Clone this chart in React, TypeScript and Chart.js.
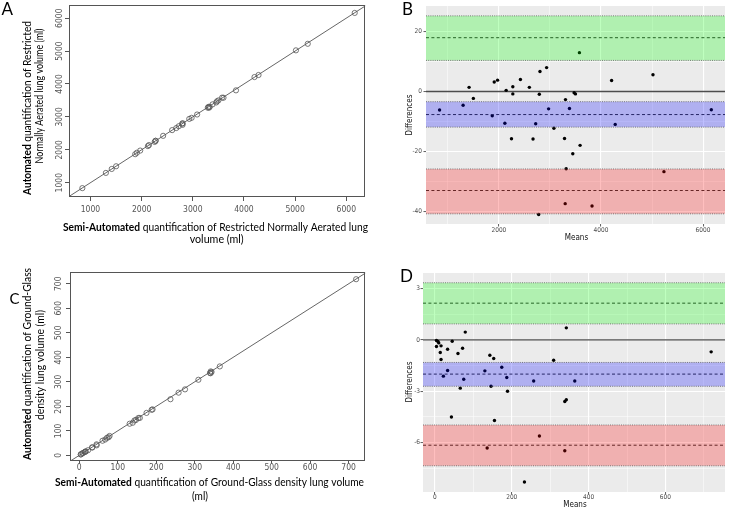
import React, { useEffect, useRef } from 'react';
import { Chart, registerables } from 'chart.js';
Chart.register(...registerables);

const TITLE_FONT = 'Lato, "Open Sans", sans-serif';
const TICK_FONT = '"Liberation Sans Narrow", "DejaVu Sans Condensed", "Liberation Sans", Arial, sans-serif';

// ---------- Panel A: Restricted Normally Aerated lung volume (ml) ----------
const semiA = [841, 1415, 1301, 1501, 1874, 1907, 1972, 2122, 2143, 2272, 2273, 2255, 2420, 2596, 2677, 2726, 2792, 2802, 2800, 2931, 2977, 3084, 3294, 3306, 3331, 3318, 3386, 3458, 3474, 3500, 3572, 3600, 3844, 4206, 4285, 5016, 5247, 6165];
const autoA = [835, 1417, 1297, 1499, 1866, 1911, 1976, 2112, 2143, 2274, 2273, 2239, 2424, 2598, 2661, 2716, 2792, 2808, 2758, 2939, 2971, 3072, 3278, 3304, 3305, 3280, 3380, 3438, 3474, 3500, 3584, 3582, 3806, 4210, 4273, 5022, 5221, 6159];
const ticksA = [1000, 2000, 3000, 4000, 5000, 6000];
const identityA = [0, 7000];

// ---------- Panel B: Bland-Altman, Restricted Normally Aerated ----------
const meansB = [838, 1416, 1299, 1500, 1870, 1909, 1974, 2117, 2143, 2273, 2273, 2247, 2422, 2597, 2669, 2721, 2792, 2805, 2779, 2935, 2974, 3078, 3286, 3305, 3318, 3299, 3383, 3448, 3474, 3500, 3578, 3591, 3825, 4208, 4279, 5019, 5234, 6162];
const diffsB = [-6.2, 1.4, -4.6, -2.3, -8.1, 3.2, 3.8, -10.6, 0.4, 1.6, -0.8, -15.8, 4.0, 1.4, -15.9, -10.8, -0.9, 6.7, -41.1, 8.0, -5.8, -12.3, -15.7, -2.7, -25.8, -37.5, -5.7, -20.8, -0.4, -0.8, 13.0, -18.0, -38.3, 3.7, -11.0, 5.6, -26.8, -6.1];
const xTicksB = [1000, 2000, 3000, 4000, 5000, 6000];
const xLabelsB = [2000, 4000, 6000];
const yTicksB = [-40, -30, -20, -10, 0, 10, 20];
const yLabelsB = [-40, -20, 0, 20];
const bandLowB = [10.4, -11.9, -40.9];
const bandMeanB = [18.0, -7.7, -33.1];
const bandHighB = [25.3, -3.4, -25.9];

// ---------- Panel C: Ground-Glass density lung volume (ml) ----------
const semiC = [4, 8, 10, 4.2, 16.2, 14.4, 16.6, 23, 33.3, 34, 45.2, 45, 60.4, 67.4, 72.2, 76.2, 78.8, 131, 139, 143.5, 147.4, 153.5, 157.4, 174.8, 188.1, 190.5, 237, 258.2, 274.8, 309.6, 341.2, 339.8, 343.8, 341.6, 365.2, 719.4];
const autoC = [4, 8, 10, 3.8, 15.8, 13.6, 15.4, 21, 32.7, 32, 40.8, 45, 59.6, 64.6, 71.8, 73.8, 79.2, 129, 133, 142.5, 144.6, 152.5, 152.6, 173.2, 185.9, 187.5, 229, 255.8, 269.2, 308.4, 334.8, 336.2, 340.2, 342.4, 362.8, 718.6];
const ticksC = [0, 100, 200, 300, 400, 500, 600, 700];
const identityC = [-100, 800];

// ---------- Panel D: Bland-Altman, Ground-Glass ----------
const meansD = [4, 8, 10, 4, 16, 14, 16, 22, 33, 33, 43, 45, 60, 66, 72, 75, 79, 130, 136, 143, 146, 153, 155, 174, 187, 189, 233, 257, 272, 309, 338, 338, 342, 342, 364, 719];
const diffsD = [-0.04, -0.1, -0.18, -0.39, -0.35, -0.74, -1.15, -2.12, -0.55, -1.79, -4.5, -0.08, -0.8, -2.82, -0.49, -2.3, 0.45, -1.81, -6.31, -0.9, -2.71, -1.09, -4.71, -1.6, -2.2, -3.0, -8.3, -2.4, -5.61, -1.19, -6.47, -3.6, -3.5, 0.7, -2.4, -0.7];
const xTicksD = [0, 100, 200, 300, 400, 500, 600, 700];
const xLabelsD = [0, 200, 400, 600];
const yTicksD = [-7.5, -6, -4.5, -3, -1.5, 0, 1.5, 3];
const yLabelsD = [-6, -3, 0, 3];
const bandLowD = [0.93, -2.71, -7.35];
const bandMeanD = [2.14, -2.0, -6.15];
const bandHighD = [3.33, -1.32, -4.97];

const bandColors = ['0,255,0', '0,0,255', '255,0,0'];

type Box = { x0: number; y0: number; w: number; h: number; L: number; T: number; R: number; B: number };
const boxA: Box = { x0: 0, y0: 0, w: 370, h: 250, L: 69, T: 5, R: 368, B: 197 };
const boxB: Box = { x0: 370, y0: 0, w: 359, h: 250, L: 426, T: 6, R: 727, B: 224 };
const boxC: Box = { x0: 0, y0: 250, w: 370, h: 260, L: 70, T: 272, R: 368, B: 461 };
const boxD: Box = { x0: 370, y0: 250, w: 359, h: 260, L: 423, T: 273, R: 727, B: 492 };

type Seg = { t: string; b?: boolean };
type TextItem = { segs: Seg[]; x: number; y: number; size: number; rot?: boolean; len?: number; font?: string; color?: string; align?: 'left' | 'center' };

function drawText(ctx: CanvasRenderingContext2D, item: TextItem, ox: number, oy: number) {
  ctx.save();
  ctx.translate(item.x - ox, item.y - oy);
  if (item.rot) ctx.rotate(-Math.PI / 2);
  const fam = item.font || TITLE_FONT;
  const fonts = item.segs.map((s) => `${s.b ? 'bold ' : ''}${item.size}px ${fam}`);
  const widths = item.segs.map((s, i) => {
    ctx.font = fonts[i];
    return ctx.measureText(s.t).width;
  });
  const total = widths.reduce((a, b) => a + b, 0);
  const sx = item.len ? item.len / total : 1;
  ctx.scale(sx, 1);
  let x = item.align === 'left' ? 0 : -total / 2;
  ctx.textBaseline = 'middle';
  ctx.textAlign = 'left';
  ctx.fillStyle = item.color || '#000';
  item.segs.forEach((s, i) => {
    ctx.font = fonts[i];
    ctx.fillText(s.t, x, 0);
    x += widths[i];
  });
  ctx.restore();
}

function layoutOf(b: Box) {
  return {
    padding: { left: 0, top: b.T - b.y0, right: b.x0 + b.w - b.R, bottom: 0 },
  };
}

const fitX = (h: number) => (s: any) => {
  s.height = h;
  s.paddingLeft = 0;
  s.paddingRight = 0;
  s.paddingTop = 0;
  s.paddingBottom = 0;
};
const fitY = (w: number) => (s: any) => {
  s.width = w;
  s.paddingLeft = 0;
  s.paddingRight = 0;
  s.paddingTop = 0;
  s.paddingBottom = 0;
};

// R base-graphics style panel (A, C)
function rConfig(
  box: Box,
  semi: number[],
  auto: number[],
  ticks: number[],
  identity: number[],
  xr: number[],
  yr: number[],
  yLabelX: number,
  xTl: number,
  xPad: number,
  texts: TextItem[]
) {
  const plugin = {
    id: 'rstyle' + box.y0,
    afterDraw(chart: any) {
      const { ctx, chartArea: a } = chart;
      ctx.save();
      ctx.strokeStyle = '#555';
      ctx.lineWidth = 1;
      ctx.strokeRect(Math.round(a.left) + 0.5, Math.round(a.top) + 0.5, Math.round(a.right - a.left) - 1, Math.round(a.bottom - a.top) - 1);
      const ys = chart.scales.y;
      ctx.fillStyle = '#555';
      ctx.font = `8.5px ${TICK_FONT}`;
      ctx.textAlign = 'center';
      ctx.textBaseline = 'middle';
      ticks.forEach((v) => {
        const py = ys.getPixelForValue(v);
        ctx.save();
        ctx.translate(yLabelX - box.x0, py);
        ctx.rotate(-Math.PI / 2);
        ctx.fillText(String(v), 0, 0);
        ctx.restore();
      });
      ctx.restore();
      texts.forEach((t) => drawText(ctx, t, box.x0, box.y0));
    },
  };
  return {
    type: 'scatter',
    data: {
      datasets: [
        {
          type: 'line',
          data: identity.map((v) => ({ x: v, y: v })),
          borderColor: '#666',
          borderWidth: 1,
          pointRadius: 0,
          fill: false,
          order: 1,
        },
        {
          data: semi.map((x, i) => ({ x, y: auto[i] })),
          pointStyle: 'circle',
          pointRadius: 2.6,
          borderColor: '#555',
          borderWidth: 0.8,
          backgroundColor: 'rgba(0,0,0,0)',
          order: 0,
        },
      ],
    },
    options: {
      animation: false,
      responsive: false,
      events: [],
      layout: layoutOf(box),
      plugins: { legend: { display: false }, tooltip: { enabled: false } },
      scales: {
        x: {
          type: 'linear',
          min: xr[0],
          max: xr[1],
          afterBuildTicks: (s: any) => {
            s.ticks = ticks.map((v) => ({ value: v }));
          },
          afterFit: fitX(box.y0 + box.h - box.B),
          grid: { display: true, drawOnChartArea: false, drawTicks: true, tickLength: xTl, tickColor: '#555', color: '#555', lineWidth: 1 },
          border: { display: false },
          ticks: {
            autoSkip: false,
            maxRotation: 0,
            minRotation: 0,
            padding: xPad,
            color: '#555',
            font: { family: TICK_FONT, size: 8.5, lineHeight: 1 },
            callback: (v: any) => String(v),
          },
        },
        y: {
          type: 'linear',
          min: yr[0],
          max: yr[1],
          afterBuildTicks: (s: any) => {
            s.ticks = ticks.map((v) => ({ value: v }));
          },
          afterFit: fitY(box.L - box.x0),
          grid: { display: true, drawOnChartArea: false, drawTicks: true, tickLength: 4, tickColor: '#555', color: '#555', lineWidth: 1 },
          border: { display: false },
          ticks: { display: false },
        },
      },
    },
    plugins: [plugin],
  };
}

// ggplot style Bland-Altman panel (B, D)
function ggConfig(
  box: Box,
  means: number[],
  diffs: number[],
  xTicks: number[],
  xLabels: number[],
  yTicks: number[],
  yLabels: number[],
  low: number[],
  mean: number[],
  high: number[],
  xr: number[],
  yr: number[],
  xPad: number,
  yPad: number,
  texts: TextItem[]
) {
  const plugin = {
    id: 'gg' + box.y0,
    beforeDraw(chart: any) {
      const { ctx, chartArea: a } = chart;
      ctx.save();
      ctx.fillStyle = '#EBEBEB';
      ctx.fillRect(a.left, a.top, a.right - a.left, a.bottom - a.top);
      ctx.restore();
    },
    beforeDatasetsDraw(chart: any) {
      const { ctx, chartArea: a } = chart;
      const py = chart.scales.y.getPixelForValue(0);
      ctx.save();
      ctx.strokeStyle = '#4D4D4D';
      ctx.lineWidth = 1.4;
      ctx.beginPath();
      ctx.moveTo(a.left, py);
      ctx.lineTo(a.right, py);
      ctx.stroke();
      ctx.restore();
    },
    afterDatasetsDraw(chart: any) {
      const { ctx, chartArea: a } = chart;
      const ys = chart.scales.y;
      ctx.save();
      ctx.beginPath();
      ctx.rect(a.left, a.top, a.right - a.left, a.bottom - a.top);
      ctx.clip();
      for (let i = 0; i < mean.length; i++) {
        const pm = ys.getPixelForValue(mean[i]);
        const ph = ys.getPixelForValue(high[i]);
        const pl = ys.getPixelForValue(low[i]);
        ctx.setLineDash([3, 2.4]);
        ctx.strokeStyle = '#333';
        ctx.lineWidth = 1;
        ctx.beginPath();
        ctx.moveTo(a.left, pm);
        ctx.lineTo(a.right, pm);
        ctx.stroke();
        ctx.fillStyle = `rgba(${bandColors[i]},0.25)`;
        ctx.fillRect(a.left, ph, a.right - a.left, pl - ph);
        ctx.setLineDash([1, 1.2]);
        ctx.strokeStyle = 'rgba(90,90,90,0.85)';
        ctx.lineWidth = 0.9;
        [ph, pl].forEach((p) => {
          ctx.beginPath();
          ctx.moveTo(a.left, p);
          ctx.lineTo(a.right, p);
          ctx.stroke();
        });
      }
      ctx.restore();
    },
    afterDraw(chart: any) {
      texts.forEach((t) => drawText(chart.ctx, t, box.x0, box.y0));
    },
  };
  const gridFor = (labels: number[]) => ({
    display: true,
    drawOnChartArea: true,
    drawTicks: true,
    tickLength: 2.5,
    color: '#FFFFFF',
    lineWidth: (c: any) => (c.tick && labels.includes(c.tick.value) ? 1.1 : 0.5),
    tickColor: (c: any) => (c.tick && labels.includes(c.tick.value) ? '#333' : 'rgba(0,0,0,0)'),
    tickWidth: 0.8,
  });
  const tickFor = (labels: number[], pad: number) => ({
    autoSkip: false,
    maxRotation: 0,
    minRotation: 0,
    padding: pad,
    color: '#4D4D4D',
    font: { family: TICK_FONT, size: 6.5, lineHeight: 1 },
    callback: (v: any) => (labels.includes(v) ? String(v) : ''),
  });
  return {
    type: 'scatter',
    data: {
      datasets: [
        {
          data: means.map((x, i) => ({ x, y: diffs[i] })),
          pointStyle: 'circle',
          pointRadius: 1.7,
          borderWidth: 0,
          backgroundColor: '#000',
        },
      ],
    },
    options: {
      animation: false,
      responsive: false,
      events: [],
      layout: layoutOf(box),
      plugins: { legend: { display: false }, tooltip: { enabled: false } },
      scales: {
        x: {
          type: 'linear',
          min: xr[0],
          max: xr[1],
          afterBuildTicks: (s: any) => {
            s.ticks = xTicks.map((v) => ({ value: v }));
          },
          afterFit: fitX(box.y0 + box.h - box.B),
          grid: gridFor(xLabels),
          border: { display: false },
          ticks: tickFor(xLabels, xPad),
        },
        y: {
          type: 'linear',
          min: yr[0],
          max: yr[1],
          afterBuildTicks: (s: any) => {
            s.ticks = yTicks.map((v) => ({ value: v }));
          },
          afterFit: fitY(box.L - box.x0),
          grid: gridFor(yLabels),
          border: { display: false },
          ticks: tickFor(yLabels, yPad),
        },
      },
    },
    plugins: [plugin],
  };
}

const textsA: TextItem[] = [
  { segs: [{ t: 'A' }], x: 1.5, y: 9.5, size: 17, align: 'left' },
  { segs: [{ t: 'Automated', b: true }, { t: ' quantification of Restricted' }], x: 27, y: 108, rot: true, len: 174, size: 12 },
  { segs: [{ t: 'Normally Aerated lung volume (ml)' }], x: 39.5, y: 96, rot: true, len: 135, size: 12 },
  { segs: [{ t: 'Semi-Automated', b: true }, { t: ' quantification of Restricted Normally Aerated lung' }], x: 215.5, y: 226.7, len: 305, size: 12 },
  { segs: [{ t: 'volume (ml)' }], x: 216.7, y: 239, len: 54, size: 12 },
];
const textsB: TextItem[] = [
  { segs: [{ t: 'B' }], x: 402, y: 9.5, size: 17, align: 'left' },
  { segs: [{ t: 'Differences' }], x: 410, y: 115, rot: true, size: 8, font: TICK_FONT, color: '#111' },
  { segs: [{ t: 'Means' }], x: 576.5, y: 237.7, size: 8, font: TICK_FONT, color: '#111' },
];
const textsC: TextItem[] = [
  { segs: [{ t: 'C' }], x: 9.5, y: 299, size: 15, align: 'left' },
  { segs: [{ t: 'Automated', b: true }, { t: ' quantification of Ground-Glass' }], x: 27.5, y: 364, rot: true, len: 192, size: 12 },
  { segs: [{ t: 'density lung volume (ml)' }], x: 40, y: 365, rot: true, len: 110, size: 12 },
  { segs: [{ t: 'Semi-Automated', b: true }, { t: ' quantification of Ground-Glass density lung volume' }], x: 209.5, y: 482.3, len: 309, size: 12 },
  { segs: [{ t: '(ml)' }], x: 200, y: 495.7, len: 16, size: 12 },
];
const textsD: TextItem[] = [
  { segs: [{ t: 'D' }], x: 400, y: 277, size: 17, align: 'left' },
  { segs: [{ t: 'Differences' }], x: 410, y: 382, rot: true, size: 8, font: TICK_FONT, color: '#111' },
  { segs: [{ t: 'Means' }], x: 575, y: 505, size: 8, font: TICK_FONT, color: '#111' },
];

function Panel({ box, make }: { box: Box; make: () => any }) {
  const ref = useRef<HTMLCanvasElement>(null);
  useEffect(() => {
    const chart = new Chart(ref.current as HTMLCanvasElement, make());
    return () => chart.destroy();
  }, []);
  return (
    <canvas
      ref={ref}
      width={box.w}
      height={box.h}
      style={{ position: 'absolute', left: box.x0, top: box.y0, width: box.w, height: box.h }}
    />
  );
}

export default function App() {
  return (
    <div style={{ position: 'fixed', left: 0, top: 0, width: 729, height: 510, background: '#fff', overflow: 'hidden' }}>
      <Panel box={boxA} make={() => rConfig(boxA, semiA, autoA, ticksA, identityA, [580, 6370], [565, 6400], 60, 4, 4.75, textsA)} />
      <Panel
        box={boxB}
        make={() => ggConfig(boxB, meansB, diffsB, xTicksB, xLabelsB, yTicksB, yLabelsB, bandLowB, bandMeanB, bandHighB, [572, 6430], [-44.3, 28.6], 0.25, 1.5, textsB)}
      />
      <Panel box={boxC} make={() => rConfig(boxC, semiC, autoC, ticksC, identityC, [-24, 743], [-23, 748], 59, 2.5, 0.25, textsC)} />
      <Panel
        box={boxD}
        make={() => ggConfig(boxD, meansD, diffsD, xTicksD, xLabelsD, yTicksD, yLabelsD, bandLowD, bandMeanD, bandHighD, [-31, 755], [-8.88, 3.9], 0, 0.5, textsD)}
      />
    </div>
  );
}
